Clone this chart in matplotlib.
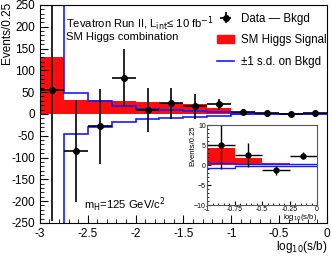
import matplotlib
matplotlib.use("Agg")
import matplotlib.pyplot as plt
import numpy as np
from matplotlib.ticker import MultipleLocator
from matplotlib.patches import Patch
from matplotlib.lines import Line2D

plt.rcParams['font.family'] = ['Liberation Sans', 'DejaVu Sans']

# bins in log10(s/b)
edges = np.arange(-3.0, 0.001, 0.25)
centers = edges[:-1] + 0.125

# data minus background and its uncertainty
data_sub = [55, -85, -28, 83, 9, 24, 17, 22, 5.0, 2.5, -1.3, 2.4]
data_err = [300, 118, 86, 65, 50, 35, 28, 12, 6.0, 3.0, 1.2, 0.8]

# SM Higgs signal expectation
signal = [130, 32, 31, 30, 28, 25, 23, 13, 4.2, 1.7, 0.5, 0.4]

# +-1 s.d. on background
bkg_sd = [400, 47, 30, 19, 12, 9, 7, 5, 0.6, 0.3, 0.25, 0.2]

RED = '#ff0d0d'
BLUE = '#1a1aff'

fig = plt.figure(figsize=(3.32, 2.58), dpi=100)
ax = fig.add_axes([0.120, 0.136, 0.865, 0.845])

def draw_hist(a, lo, lw=1.2, ms=4):
    e = edges[lo:]
    s = np.array(signal[lo:])
    sd = np.array(bkg_sd[lo:])
    a.stairs(s, e, baseline=0, fill=True, color=RED, lw=0)
    a.stairs(sd, e, baseline=None, color=BLUE, lw=lw)
    a.stairs(-sd, e, baseline=None, color=BLUE, lw=lw)
    a.errorbar(centers[lo:], data_sub[lo:], yerr=data_err[lo:], xerr=0.125,
               fmt='o', color='black', ms=ms, elinewidth=lw, capsize=0)

draw_hist(ax, 0)
ax.set_xlim(-3, 0)
ax.set_ylim(-250, 250)
ax.set_xticks([-3, -2.5, -2, -1.5, -1, -0.5, 0])
ax.set_xticklabels(['-3', '-2.5', '-2', '-1.5', '-1', '-0.5', '0'])
ax.xaxis.set_minor_locator(MultipleLocator(0.1))
ax.set_yticks(np.arange(-250, 251, 50))
ax.set_yticklabels(['%d' % v for v in np.arange(-250, 251, 50)])
ax.yaxis.set_minor_locator(MultipleLocator(10))
ax.tick_params(which='both', direction='in', labelsize=8.5, top=False, right=False)
ax.tick_params(which='major', length=6)
ax.tick_params(which='minor', length=3)
ax.set_ylabel('Events/0.25', fontsize=8.5, loc='top')
ax.yaxis.set_label_coords(-0.093, 1.015)
ax.set_xlabel('log$_{10}$(s/b)', fontsize=8.5, loc='right')
ax.xaxis.set_label_coords(1.0, -0.072)

ax.text(0.09, 0.955, 'Tevatron Run II, L$_{\\rm int}$\u2264 10 fb$^{-1}$',
        transform=ax.transAxes, fontsize=8.1, va='top')
ax.text(0.09, 0.875, 'SM Higgs combination', transform=ax.transAxes,
        fontsize=8.1, va='top')
ax.text(0.155, 0.04, 'm$_{\\rm H}$=125 GeV/c$^{2}$', transform=ax.transAxes,
        fontsize=8.1, va='bottom')

# legend built from proxies
h_data = ax.errorbar([], [], yerr=[], xerr=[], fmt='o', color='black', ms=4,
                     elinewidth=1.2)
h_sig = Patch(color=RED)
h_sd = Line2D([], [], color=BLUE, lw=1.2)
ax.legend([h_data, h_sig, h_sd], ['Data \u2014 Bkgd', 'SM Higgs Signal',
          '\u00b11 s.d. on Bkgd'], loc='upper right', frameon=False,
          fontsize=8.3, handlelength=1.4, borderaxespad=0.0, borderpad=0.2,
          labelspacing=0.85, handletextpad=0.6, bbox_to_anchor=(1.005, 0.975))

# inset
ins = fig.add_axes([0.624, 0.205, 0.331, 0.31])
draw_hist(ins, 8, lw=1.0, ms=3.5)
ins.set_xlim(-1, 0)
ins.set_ylim(-10, 10)
ins.set_xticks([-1, -0.75, -0.5, -0.25, 0])
ins.set_xticklabels(['-1', '-0.75', '-0.5', '-0.25', '0'])
ins.xaxis.set_minor_locator(MultipleLocator(0.05))
ins.set_yticks([-10, -5, 0, 5, 10])
ins.yaxis.set_minor_locator(MultipleLocator(1))
ins.tick_params(which='both', direction='in', labelsize=5, pad=1)
ins.tick_params(which='major', length=3)
ins.tick_params(which='minor', length=1.5)
for s in ins.spines.values():
    s.set_color('#555555')
ins.set_ylabel('Events/0.25', fontsize=5.5, loc='top')
ins.yaxis.set_label_coords(-0.1, 1.0)
ins.set_xlabel('log$_{10}$(s/b)', fontsize=5.5, loc='right')
ins.xaxis.set_label_coords(1.0, -0.09)

fig.savefig('out.png', dpi=100)
